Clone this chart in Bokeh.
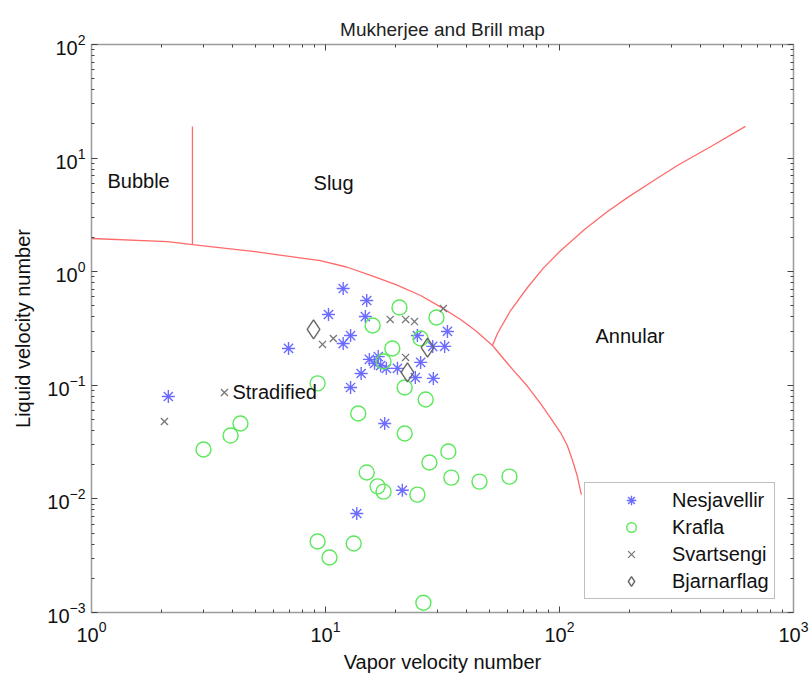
from bokeh.plotting import figure
from bokeh.models import (LogAxis, FixedTicker, Legend, LegendItem, Label,
                          Range1d)
from bokeh.embed import file_html
from bokeh.resources import INLINE

# ---------------- data ----------------
nes_x = [2.13, 11.9, 15.0, 10.3, 14.8, 33.2, 12.8, 11.9, 6.95, 24.7, 28.7, 32.3,
         15.4, 16.8, 17.2, 18.2, 20.3, 25.5, 24.2, 28.9, 14.2, 12.8, 17.9, 21.3,
         13.6, 16.2]
nes_y = [0.0797, 0.711, 0.558, 0.420, 0.403, 0.298, 0.274, 0.233, 0.211, 0.274,
         0.220, 0.220, 0.169, 0.179, 0.149, 0.141, 0.141, 0.159, 0.117, 0.115,
         0.127, 0.0957, 0.0461, 0.0119, 0.00744, 0.156]

kra_x = [4.33, 3.93, 3.01, 20.7, 15.9, 29.8, 25.5, 19.3, 17.7, 9.25, 21.8, 26.8,
         13.8, 21.8, 33.5, 27.8, 15.0, 34.5, 45.5, 61.1, 16.7, 17.7, 24.7, 9.25,
         10.4, 13.2, 26.2]
kra_y = [0.0461, 0.0361, 0.0272, 0.484, 0.336, 0.395, 0.258, 0.211, 0.162, 0.104,
         0.0957, 0.0750, 0.0565, 0.0376, 0.0261, 0.0209, 0.0171, 0.0154, 0.0142,
         0.0157, 0.0129, 0.0116, 0.0109, 0.00422, 0.00305, 0.00405, 0.00122]

sva_x = [2.05, 3.70, 9.71, 10.8, 18.9, 22.0, 24.0, 31.9, 22.0]
sva_y = [0.048, 0.0865, 0.229, 0.258, 0.380, 0.380, 0.364, 0.474, 0.176]

bja_x = [8.89, 27.3, 22.4]
bja_y = [0.310, 0.215, 0.130]

# flow-regime boundaries
bubble_x = [2.70, 2.70]
bubble_y = [1.73, 19.0]

strat_x = [1.0, 2.11, 2.70, 5.0, 9.5, 12.3, 15.6, 20.0, 25.5, 31.0, 37.8, 44.0,
           51.7, 63.0, 73.0, 83.0, 92.0, 101.0, 108.0, 113.7, 119.0, 124.0]
strat_y = [1.96, 1.84, 1.73, 1.50, 1.25, 1.10, 0.93, 0.77, 0.617, 0.49, 0.379,
           0.30, 0.224, 0.138, 0.098, 0.069, 0.051, 0.0384, 0.0295, 0.0218,
           0.0160, 0.0109]

annular_x = [51.7, 54.3, 61.8, 73.0, 85.5, 101.0, 129.0, 160.0, 195.0, 252.0,
             319.0, 442.0, 623.0]
annular_y = [0.224, 0.286, 0.455, 0.726, 1.08, 1.53, 2.39, 3.37, 4.49, 6.31,
             8.60, 12.6, 19.0]

x_ticks = [1, 10, 100, 1000]
y_ticks = [1e-3, 1e-2, 1e-1, 1, 10, 100]

FONT = "Liberation Sans"

x_minor = [m * t for t in x_ticks[:-1] for m in range(2, 10)]
y_minor = [m * t for t in y_ticks[:-1] for m in range(2, 10)]

p = figure(width=812, height=681, x_axis_type="log", y_axis_type="log",
           x_range=Range1d(1, 1000), y_range=Range1d(1e-3, 1e2),
           output_backend="svg", toolbar_location=None,
           min_border_left=91, min_border_right=19, min_border_top=44,
           min_border_bottom=69)

p.title.text = "Mukherjee and Brill map"
p.title.align = "center"
p.title.text_font = FONT
p.title.text_font_size = "19px"
p.title.text_font_style = "normal"
p.title.text_color = "#222222"

p.xgrid.visible = False
p.ygrid.visible = False
p.outline_line_color = None


def style_axis(ax, ticks, minor, show_labels):
    ax.ticker = FixedTicker(ticks=ticks, minor_ticks=minor)
    ax.axis_line_color = "#9a9a9a"
    ax.axis_line_width = 1.5
    ax.major_tick_in = 6
    ax.major_tick_out = 0
    ax.minor_tick_in = 3
    ax.minor_tick_out = 0
    ax.major_tick_line_color = "#444444"
    ax.minor_tick_line_color = "#444444"
    if show_labels:
        ax.major_label_text_font = FONT
        ax.major_label_text_font_size = "20px"
        ax.major_label_text_color = "#111111"
        ax.axis_label_text_font = FONT
        ax.axis_label_text_font_size = "20px"
        ax.axis_label_text_font_style = "normal"
        ax.axis_label_text_color = "#111111"
    else:
        ax.major_label_overrides = {t: "" for t in ticks}
        ax.major_label_text_font_size = "0px"
        ax.major_label_standoff = 0


style_axis(p.xaxis[0], x_ticks, x_minor, True)
style_axis(p.yaxis[0], y_ticks, y_minor, True)
p.xaxis[0].axis_label = "Vapor velocity number"
p.yaxis[0].axis_label = "Liquid velocity number"
p.xaxis[0].major_label_standoff = 8
p.yaxis[0].major_label_standoff = 6
p.xaxis[0].axis_label_standoff = 6
p.yaxis[0].axis_label_standoff = 10

top_ax = LogAxis()
style_axis(top_ax, x_ticks, x_minor, False)
p.add_layout(top_ax, "above")
right_ax = LogAxis()
style_axis(right_ax, y_ticks, y_minor, False)
p.add_layout(right_ax, "right")

# boundaries
RED = "#ff6a6a"
p.line(bubble_x, bubble_y, line_color=RED, line_width=1.3)
p.line(strat_x, strat_y, line_color=RED, line_width=1.3)
p.line(annular_x, annular_y, line_color=RED, line_width=1.3)

# data
r1 = p.scatter(nes_x, nes_y, marker="asterisk", size=13, line_color="#6b6bff",
               line_width=1.4)
r2 = p.scatter(kra_x, kra_y, marker="circle", size=15, fill_color=None,
               line_color="#5ce85c", line_width=1.4)
r3 = p.scatter(sva_x, sva_y, marker="x", size=10, line_color="#777777",
               line_width=1.3)
r4 = p.scatter(bja_x, bja_y, marker="diamond", size=19, fill_color=None,
               line_color="#666666", line_width=1.4)

# region labels
for txt, lx, ly in [("Bubble", 1.17, 6.35), ("Slug", 8.89, 5.98),
                    ("Annular", 142.5, 0.274), ("Stradified", 4.0, 0.0865)]:
    p.add_layout(Label(x=lx, y=ly, text=txt, text_font=FONT,
                       text_font_size="20px", text_baseline="middle",
                       text_align="left", text_color="#111111"))

legend = Legend(items=[LegendItem(label="Nesjavellir", renderers=[r1]),
                       LegendItem(label="Krafla", renderers=[r2]),
                       LegendItem(label="Svartsengi", renderers=[r3]),
                       LegendItem(label="Bjarnarflag", renderers=[r4])],
                location=(493, 13), padding=5, spacing=3, margin=0,
                glyph_width=82, glyph_height=24, label_height=24,
                label_standoff=0, label_text_font=FONT,
                label_text_font_size="20px", label_text_color="#111111",
                border_line_color="#808080", border_line_width=1.2,
                background_fill_color="white", background_fill_alpha=1)
p.add_layout(legend)

open("out.html", "w").write(file_html(p, INLINE))
